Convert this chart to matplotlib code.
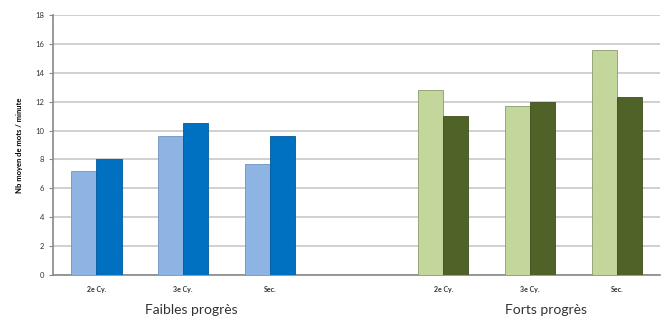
import numpy as np
import matplotlib.pyplot as plt

cycles = ['2e Cy.', '3e Cy.', 'Sec.']
groupes = ['Faibles progrès', 'Forts progrès']
# valeurs (mots / minute)
faibles_clair = [7.2, 9.6, 7.7]
faibles_fonce = [8.0, 10.5, 9.6]
forts_clair = [12.8, 11.7, 15.6]
forts_fonce = [11.0, 12.0, 12.3]

plt.rcParams['font.family'] = ['Lato', 'DejaVu Sans']

fig = plt.figure(figsize=(6.65, 3.21), dpi=100)
ax = fig.add_axes([0.0797, 0.1433, 0.9128, 0.81])

x1 = np.arange(3)
x2 = np.arange(3) + 4
w = 0.29
ax.bar(x1 - w/2, faibles_clair, w, color='#8eb4e3', edgecolor='#6f93c0', lw=0.6, zorder=3)
ax.bar(x1 + w/2, faibles_fonce, w, color='#0070c0', edgecolor='#005a9e', lw=0.6, zorder=3)
ax.bar(x2 - w/2, forts_clair, w, color='#c3d69b', edgecolor='#8a9c68', lw=0.6, zorder=3)
ax.bar(x2 + w/2, forts_fonce, w, color='#4f6228', edgecolor='#3e4e1f', lw=0.6, zorder=3)

ax.set_xlim(-0.5, 6.5)
ax.set_ylim(0, 18)
ax.set_yticks(range(0, 19, 2))
ax.set_xticks(list(x1) + list(x2))
ax.set_xticklabels(cycles + cycles, fontsize=5, fontweight='bold', color='#333333')
ax.tick_params(axis='y', labelsize=5.5, length=3, color='#888888', labelcolor='#333333')
ax.tick_params(axis='x', length=0, pad=8)
ax.grid(axis='y', color='#c8c8c8', lw=1.2, zorder=0)
for s in ['top', 'right']:
    ax.spines[s].set_visible(False)
for s in ['left', 'bottom']:
    ax.spines[s].set_color('#888888')
    ax.spines[s].set_linewidth(1.2)

ax.set_ylabel('Nb moyen de mots / minute', fontsize=5.5, fontweight='bold', labelpad=9)

for g, xc in zip(groupes, [1.09, 5.19]):
    ax.text(xc, -0.135, g, transform=ax.get_xaxis_transform(), ha='center', va='center',
            fontsize=10, color='#333333')

fig.savefig('out.png', dpi=100)
